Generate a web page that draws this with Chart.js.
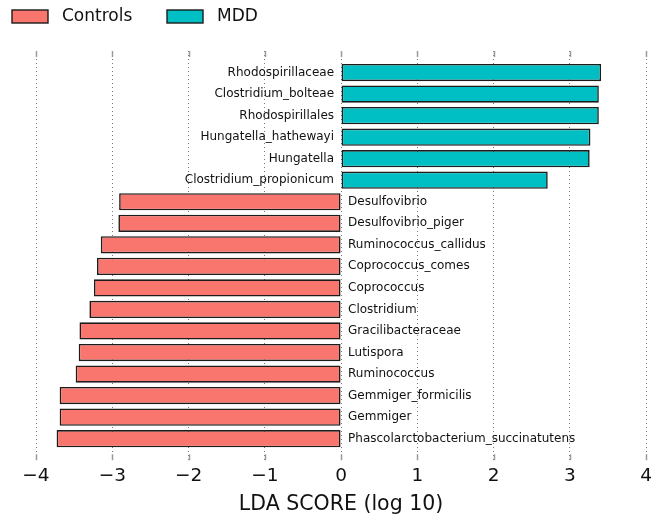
<!DOCTYPE html>
<html>
<head>
<meta charset="utf-8">
<title>LDA scores</title>
<script src="https://cdn.jsdelivr.net/npm/chart.js@4.4.1/dist/chart.umd.min.js"></script>
<style>
  html, body { margin: 0; padding: 0; background: #fff; }
  #wrap { width: 657px; height: 525px; position: relative; }
</style>
</head>
<body>
<div id="wrap"><canvas id="ldaChart"></canvas></div>
<script>
// --- data ---
const taxa = [
    'Rhodospirillaceae', 'Clostridium_bolteae', 'Rhodospirillales',
    'Hungatella_hathewayi', 'Hungatella', 'Clostridium_propionicum',
    'Desulfovibrio', 'Desulfovibrio_piger', 'Ruminococcus_callidus',
    'Coprococcus_comes', 'Coprococcus', 'Clostridium',
    'Gracilibacteraceae', 'Lutispora', 'Ruminococcus',
    'Gemmiger_formicilis', 'Gemmiger', 'Phascolarctobacterium_succinatutens'
];
const ldaScores = [
    3.41, 3.38, 3.38, 3.27, 3.26, 2.71,
    -2.91, -2.92, -3.15, -3.20, -3.24, -3.30,
    -3.43, -3.44, -3.48, -3.69, -3.69, -3.73
];
const groups = [
    'MDD', 'MDD', 'MDD', 'MDD', 'MDD', 'MDD',
    'Controls', 'Controls', 'Controls', 'Controls', 'Controls', 'Controls',
    'Controls', 'Controls', 'Controls', 'Controls', 'Controls', 'Controls'
];
const groupNames = ['Controls', 'MDD'];
const xTicks = [-4, -3, -2, -1, 0, 1, 2, 3, 4];
const axisTitle = 'LDA SCORE (log 10)';

const groupColors = { Controls: '#F8766D', MDD: '#00BFC4' };
const FONT = '"DejaVu Sans", "Liberation Sans", sans-serif';

// one dataset per group, bars sit at their row index on a linear y scale
function buildDatasets() {
    return groupNames.map(function(name) {
        const pts = [];
        taxa.forEach(function(t, i) {
            if (groups[i] === name) pts.push({ x: ldaScores[i], y: i });
        });
        return {
            label: name,
            data: pts,
            backgroundColor: groupColors[name],
            borderColor: '#1c1c1c',
            borderWidth: 1.6,
            borderSkipped: false,
            grouped: false,
            categoryPercentage: 1,
            barPercentage: 0.8
        };
    });
}

// taxon names next to the zero line
const taxonLabels = {
    id: 'taxonLabels',
    afterDatasetsDraw(chart) {
        const ctx = chart.ctx;
        const xs = chart.scales.x;
        const zero = xs.getPixelForValue(0);
        ctx.save();
        ctx.font = '12px ' + FONT;
        ctx.fillStyle = '#111';
        ctx.textBaseline = 'middle';
        chart.data.datasets.forEach(function(ds, di) {
            chart.getDatasetMeta(di).data.forEach(function(bar, j) {
                const i = ds.data[j].y;
                if (ldaScores[i] >= 0) {
                    ctx.textAlign = 'right';
                    ctx.fillText(taxa[i], zero - 7, bar.y);
                } else {
                    ctx.textAlign = 'left';
                    ctx.fillText(taxa[i], zero + 7, bar.y);
                }
            });
        });
        ctx.restore();
    }
};

// inward tick marks on top and bottom edges (matplotlib style)
const innerTicks = {
    id: 'innerTicks',
    afterDraw(chart) {
        const ctx = chart.ctx;
        const xs = chart.scales.x;
        const a = chart.chartArea;
        ctx.save();
        ctx.strokeStyle = '#9a9a9a';
        ctx.lineWidth = 1.5;
        xs.ticks.forEach(function(t) {
            const px = Math.round(xs.getPixelForValue(t.value)) + 0.5;
            ctx.beginPath();
            ctx.moveTo(px, a.top);
            ctx.lineTo(px, a.top + 6);
            ctx.moveTo(px, a.bottom);
            ctx.lineTo(px, a.bottom - 6);
            ctx.stroke();
        });
        ctx.restore();
    }
};

// legend drawn in the top-left corner
const boxLegend = {
    id: 'boxLegend',
    afterDraw(chart) {
        const ctx = chart.ctx;
        const spots = [12, 167];
        ctx.save();
        ctx.font = '17px ' + FONT;
        ctx.textBaseline = 'middle';
        ctx.textAlign = 'left';
        chart.data.datasets.forEach(function(ds, i) {
            const x = spots[i];
            ctx.fillStyle = ds.backgroundColor;
            ctx.fillRect(x, 10, 36, 13);
            ctx.strokeStyle = '#1c1c1c';
            ctx.lineWidth = 1.4;
            ctx.strokeRect(x, 10, 36, 13);
            ctx.fillStyle = '#111';
            ctx.fillText(ds.label, x + 50, 16.5);
        });
        ctx.restore();
    }
};

const ctx = document.getElementById('ldaChart').getContext('2d');
new Chart(ctx, {
    type: 'bar',
    data: { datasets: buildDatasets() },
    options: {
        indexAxis: 'y',
        responsive: true,
        maintainAspectRatio: false,
        animation: false,
        layout: { padding: { top: 51, left: 36, right: 10, bottom: 0 } },
        plugins: {
            legend: { display: false },
            tooltip: { enabled: false }
        },
        scales: {
            y: {
                type: 'linear',
                display: false,
                reverse: true,
                offset: false,
                min: -1,
                max: taxa.length
            },
            x: {
                type: 'linear',
                min: xTicks[0],
                max: xTicks[xTicks.length - 1],
                afterBuildTicks: function(axis) {
                    axis.ticks = xTicks.map(function(v) { return { value: v }; });
                },
                border: { display: false, dash: [1, 3] },
                grid: {
                    color: '#7a7a7a',
                    lineWidth: 1,
                    drawTicks: false
                },
                ticks: {
                    padding: 5,
                    color: '#111',
                    font: { family: FONT, size: 18.5 },
                    maxRotation: 0,
                    callback: function(v) {
                        return v < 0 ? '\u2212' + Math.abs(v) : String(v);
                    }
                },
                title: {
                    display: true,
                    text: axisTitle,
                    color: '#111',
                    font: { family: FONT, size: 20.5 },
                    padding: { top: 0, bottom: 8 }
                }
            }
        }
    },
    plugins: [taxonLabels, innerTicks, boxLegend]
});
</script>
</body>
</html>
